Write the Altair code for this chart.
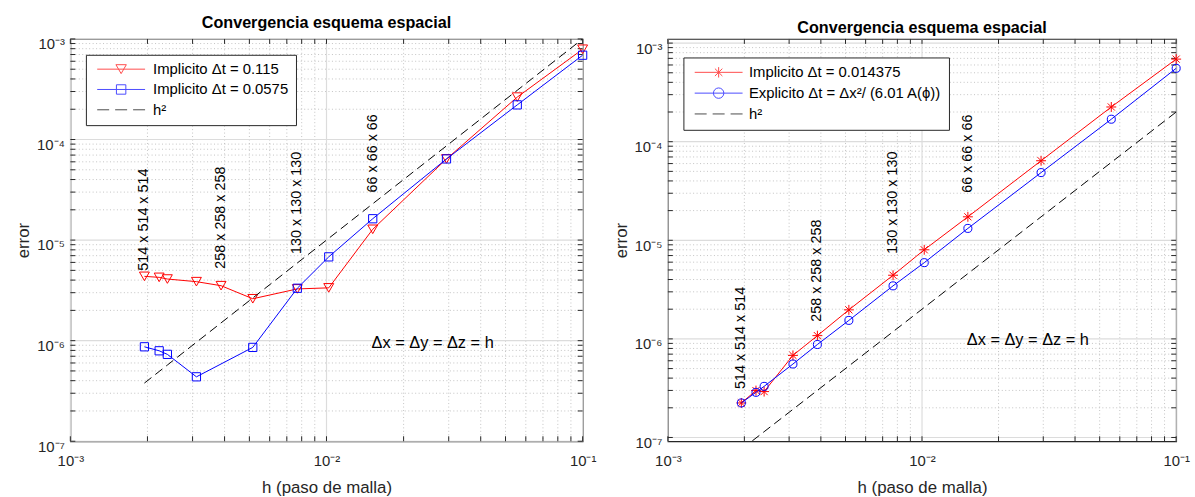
import altair as alt
import pandas as pd

FONT = "Liberation Sans"
AXIS_COLOR = "#262626"
MAJOR_GRID = "#dcdcdc"
MINOR_GRID = "#b4b4b4"
RED = "#ff0000"
BLUE = "#0000ff"

# Mesh spacing h = 1/N for N = 514, 450, 418, 322, 258, 194, 130, 98, 66, 34, 18, 10
h_vals = [0.001946, 0.002222, 0.002392, 0.003106, 0.003876, 0.005155,
          0.007692, 0.010204, 0.015152, 0.029412, 0.055556, 0.1]

# Left panel: implicit scheme, two time steps (None = not computed)
err_imp_dt0115 = [4.36e-6, 4.26e-6, 4.10e-6, 3.86e-6, 3.52e-6, 2.61e-6,
                  3.27e-6, 3.35e-6, 1.28e-5, 6.41e-5, 2.64e-4, 7.9e-4]
err_imp_dt00575 = [8.69e-7, 7.93e-7, 7.31e-7, 4.37e-7, None, 8.57e-7,
                   3.32e-6, 6.81e-6, 1.63e-5, 6.41e-5, 2.21e-4, 6.89e-4]

# Right panel: implicit vs explicit scheme
err_imp_dt0014375 = [2.24e-7, 2.99e-7, 2.92e-7, 6.80e-7, 1.079e-6, 1.97e-6,
                     4.42e-6, 8.01e-6, 1.73e-5, 6.41e-5, 2.25e-4, 6.88e-4]
err_exp = [2.24e-7, 2.87e-7, 3.30e-7, 5.56e-7, 8.77e-7, 1.54e-6,
           3.45e-6, 5.93e-6, 1.32e-5, 4.86e-5, 1.69e-4, 5.55e-4]

# Reference slope lines: coef * h^2
ref_coef_left = 0.1
ref_coef_right = 0.02

# Grid-size annotations (vertical text)
grid_names = ["514 x 514 x 514", "258 x 258 x 258", "130 x 130 x 130", "66 x 66 x 66"]
grid_h = [0.001946, 0.003876, 0.007692, 0.015152]
grid_err_left = [4.96e-6, 5.19e-6, 7.29e-6, 2.98e-5]
grid_err_right = [3.10e-7, 1.49e-6, 7.30e-6, 3.03e-5]

delta_text = "Δx = Δy = Δz = h"
delta_h = 0.015
delta_err_left = 9.4e-7
delta_err_right = 9.7e-7

legend_left = ["Implicito Δt = 0.115", "Implicito Δt = 0.0575", "h²"]
legend_right = ["Implicito Δt = 0.014375", "Explicito Δt = Δx²/ (6.01 A(ϕ))", "h²"]

x_major = [1e-3, 1e-2, 1e-1]
x_minor = [m * 10.0 ** e for e in (-3, -2) for m in range(2, 10)]
y_major = [1e-7, 1e-6, 1e-5, 1e-4, 1e-3]
y_minor = [m * 10.0 ** e for e in (-7, -6, -5, -4) for m in range(2, 10)]

# Marker shapes
STAR = "M-1,0H1M0,-1V1M-0.72,-0.72L0.72,0.72M-0.72,0.72L0.72,-0.72"

# Legend glyphs: line sample with the marker in the middle (units of 5 px)
C = 3.83
LEG_TRI = f"M-1,0H8.66M{C-1.05},-0.9H{C+1.05}L{C},0.9Z"
LEG_SQR = f"M-1,0H8.66M{C-0.95},-0.95H{C+0.95}V0.95H{C-0.95}Z"
LEG_CIR = f"M-1,0H8.66M{C+1.05},0A1.05,1.05 0 1,1 {C-1.05},0A1.05,1.05 0 1,1 {C+1.05},0Z"
LEG_STAR = (f"M-1,0H8.66M{C},-1.05V1.05M{C-0.75},-0.75L{C+0.75},0.75"
            f"M{C-0.75},0.75L{C+0.75},-0.75")
LEG_DASH = "M-1,0H1.415M2.6225,0H5.0375M6.245,0H8.66"


def sup_label_expr():
    sups = {-7: "⁻⁷", -6: "⁻⁶", -5: "⁻⁵", -4: "⁻⁴", -3: "⁻³", -2: "⁻²", -1: "⁻¹"}
    parts = [f"round(log(datum.value)/LN10) == {e} ? '10{s}'" for e, s in sups.items()]
    return " : ".join(parts) + " : ''"


LABEL_EXPR = sup_label_expr()


def panel(series, ref_coef, y_domain, width, height, leg_names, leg_paths,
          leg_x, leg_y, leg_symoff, leg_laboff, leg_pad, leg_rowpad,
          ann_err, delta_err, title_dy):
    xs = alt.Scale(type="log", domain=[1e-3, 1e-1], nice=False)
    ys = alt.Scale(type="log", domain=y_domain, nice=False)
    x_ax = alt.Axis(
        values=x_major, labelExpr=LABEL_EXPR, title="h (paso de malla)",
        grid=False, ticks=False, tickSize=0, domain=False, labelFlush=False,
        labelOverlap=False, labelFont=FONT, labelFontSize=15, labelColor="#262626",
        labelPadding=12, titleFont=FONT, titleFontSize=17, titleFontWeight="normal",
        titleColor="#262626", titlePadding=12)
    y_ax = alt.Axis(
        values=y_major, labelExpr=LABEL_EXPR, title="error",
        grid=False, ticks=False, tickSize=0, domain=False, labelFlush=False,
        labelOverlap=False, labelFont=FONT, labelFontSize=15, labelColor="#262626",
        labelPadding=6, labelOffset=5, titleFont=FONT, titleFontSize=17,
        titleFontWeight="normal", titleColor="#262626", titlePadding=4)
    xn = alt.X("h:Q", scale=xs, axis=x_ax)
    yn = alt.Y("err:Q", scale=ys, axis=y_ax)

    xt = pd.DataFrame({"h": x_major + x_minor})
    yt = pd.DataFrame({"err": [v for v in y_major + y_minor
                               if y_domain[0] <= v <= y_domain[1]]})

    layers = [
        alt.Chart(pd.DataFrame({"h": x_minor})).mark_rule(
            color=MINOR_GRID, strokeWidth=0.8, strokeDash=[1, 2.5]).encode(x=xn),
        alt.Chart(pd.DataFrame({"err": y_minor})).mark_rule(
            color=MINOR_GRID, strokeWidth=0.8, strokeDash=[1, 2.5]).encode(y=yn),
        alt.Chart(pd.DataFrame({"h": x_major})).mark_rule(
            color=MAJOR_GRID, strokeWidth=1.2).encode(x=xn),
        alt.Chart(pd.DataFrame({"err": y_major})).mark_rule(
            color=MAJOR_GRID, strokeWidth=1.2).encode(y=yn),
        # inward ticks on all four sides
        alt.Chart(xt).mark_rule(color=AXIS_COLOR, strokeWidth=1).encode(
            x=xn, y=alt.value(height), y2=alt.value(height - 5)),
        alt.Chart(xt).mark_rule(color=AXIS_COLOR, strokeWidth=1).encode(
            x=xn, y=alt.value(0), y2=alt.value(5)),
        alt.Chart(yt).mark_rule(color=AXIS_COLOR, strokeWidth=1).encode(
            y=yn, x=alt.value(0), x2=alt.value(5)),
        alt.Chart(yt).mark_rule(color=AXIS_COLOR, strokeWidth=1).encode(
            y=yn, x=alt.value(width), x2=alt.value(width - 5)),
    ]

    for errs, color, shape, size in series:
        df = pd.DataFrame({"h": h_vals, "err": errs}).dropna()
        layers.append(alt.Chart(df).mark_line(color=color, strokeWidth=1).encode(x=xn, y=yn))
        layers.append(alt.Chart(df).mark_point(
            shape=shape, filled=False, color=color, size=size, strokeWidth=1,
            opacity=1).encode(x=xn, y=yn))

    ref = pd.DataFrame({"h": h_vals, "err": [ref_coef * h * h for h in h_vals]})
    layers.append(alt.Chart(ref).mark_line(
        color="black", strokeWidth=1, strokeDash=[9, 5], clip=True).encode(x=xn, y=yn))

    ann = pd.DataFrame({"h": grid_h, "err": ann_err, "txt": grid_names})
    layers.append(alt.Chart(ann).mark_text(
        angle=270, align="left", baseline="middle", font=FONT, fontSize=14.5,
        color="black").encode(x=xn, y=yn, text="txt:N"))

    dl = pd.DataFrame({"h": [delta_h], "err": [delta_err], "txt": [delta_text]})
    layers.append(alt.Chart(dl).mark_text(
        align="left", baseline="middle", font=FONT, fontSize=16.5,
        color="black").encode(x=xn, y=yn, text="txt:N"))

    leg = alt.Legend(
        title=None, orient="none", legendX=leg_x, legendY=leg_y,
        padding=leg_pad, rowPadding=leg_rowpad, labelFont=FONT, labelFontSize=15,
        labelColor="black", labelLimit=0, symbolSize=100, symbolStrokeWidth=1,
        symbolOffset=leg_symoff, labelOffset=leg_laboff, symbolFillColor="transparent",
        strokeColor=AXIS_COLOR, fillColor="white", cornerRadius=0)
    legdf = pd.DataFrame({"serie": leg_names, "h": [0.01] * 3, "err": [1e-5] * 3})
    layers.append(alt.Chart(legdf).transform_filter("false").mark_point(
        filled=False, size=100, strokeWidth=1).encode(
        x=xn, y=yn,
        color=alt.Color("serie:N", scale=alt.Scale(
            domain=leg_names, range=[series[0][1], series[1][1], "#000000"]), legend=leg),
        shape=alt.Shape("serie:N", scale=alt.Scale(
            domain=leg_names, range=leg_paths), legend=leg)))

    return alt.layer(*layers).properties(
        width=width, height=height,
        title=alt.Title("Convergencia esquema espacial", font=FONT, fontSize=16.3,
                        fontWeight="bold", color="black", offset=6, dy=title_dy))


left = panel(
    [(err_imp_dt0115, RED, "triangle-down", 100), (err_imp_dt00575, BLUE, "square", 69)],
    ref_coef_left, [1e-7, 1e-3], 517, 406, legend_left, [LEG_TRI, LEG_SQR, LEG_DASH],
    15.7, 16, 1.9, 43.9, 7, 4.5, grid_err_left, delta_err_left, 0)

right = panel(
    [(err_imp_dt0014375, RED, STAR, 100), (err_exp, BLUE, "circle", 66)],
    ref_coef_right, [9.16e-8, 1.102e-3], 513, 406, legend_right,
    [LEG_STAR, LEG_CIR, LEG_DASH],
    15.7, 18.7, 1.4, 42.2, 7.5, 5, grid_err_right, delta_err_right, 4)

chart = alt.hconcat(left, right, spacing=86, bounds="flush").resolve_scale(
    x="independent", y="independent", color="independent", shape="independent"
).resolve_legend(color="independent", shape="independent").configure_view(
    stroke=AXIS_COLOR, strokeWidth=1.2
).properties(padding={"left": 14, "top": 12, "right": 5, "bottom": 0},
             background="white")

chart.save("out.html", embed_options={"renderer": "svg", "actions": False})
